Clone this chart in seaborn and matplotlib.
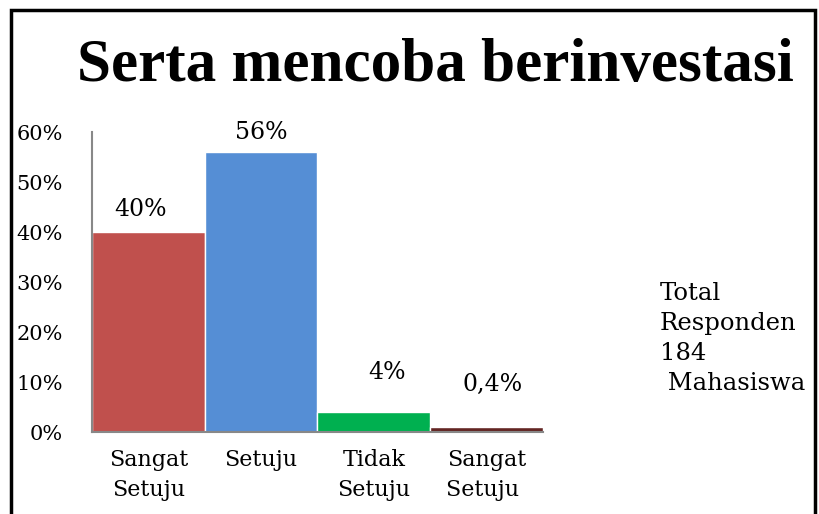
import matplotlib
matplotlib.use("Agg")
import pandas as pd
import seaborn as sns
import matplotlib.pyplot as plt
from matplotlib.patches import Rectangle

categories = ["Sangat\nSetuju", "Setuju", "Tidak\nSetuju", "Sangat\nSetuju "]
values = [40, 56, 4, 1.0]
labels = ["40%", "56%", "4%", "0,4%"]
colors = ["#C0504D", "#558ED5", "#00B050", "#632523"]
yticks = [0, 10, 20, 30, 40, 50, 60]

df = pd.DataFrame({"kategori": categories, "nilai": values})

sns.set_style("white")
plt.rcParams["font.family"] = ["DejaVu Serif"]
plt.rcParams["text.color"] = "black"

fig = plt.figure(figsize=(8.19, 5.14), dpi=100)
ax = fig.add_axes([0.1123, 0.1595, 0.5507, 0.5835])

sns.barplot(data=df, x="kategori", y="nilai", hue="kategori", palette=colors,
            width=1.0, legend=False, saturation=1, ax=ax)

ax.set_xlim(-0.5, 3.5)
ax.set_ylim(0, 60)
ax.set_yticks(yticks)
ax.set_yticklabels([f"{t}%" for t in yticks], fontsize=15)
ax.set_xlabel("")
ax.set_ylabel("")
ax.tick_params(axis="y", length=5, color="#888888", labelcolor="black",
               direction="out", pad=16)
ax.tick_params(axis="x", length=0, labelsize=16, labelcolor="black", pad=12)
for lab in ax.get_xticklabels():
    lab.set_linespacing(1.5)

sns.despine(ax=ax, top=True, right=True)
for s in ["left", "bottom"]:
    ax.spines[s].set_color("#888888")
    ax.spines[s].set_linewidth(1.5)

# label positions (value + offset), slightly shifted like in the original
dy = [4.5, 4, 8, 8.5]
dx = [-0.07, 0, 0.12, 0.05]
for i, (v, t) in enumerate(zip(values, labels)):
    ax.text(i + dx[i], v + dy[i], t, ha="center", va="center", fontsize=17)

fig.text(0.531, 0.872, "Serta mencoba berinvestasi", ha="center", va="center",
         fontsize=44, fontweight="bold", family="Liberation Serif")
fig.text(0.806, 0.452, "Total\nResponden\n184\n Mahasiswa", ha="left", va="top",
         fontsize=17.5, linespacing=1.4)

fig.patches.append(Rectangle((0.0135, -0.1), 0.982, 1.08, transform=fig.transFigure,
                             fill=False, edgecolor="black", linewidth=2.5))

fig.savefig("out.png", dpi=100)
